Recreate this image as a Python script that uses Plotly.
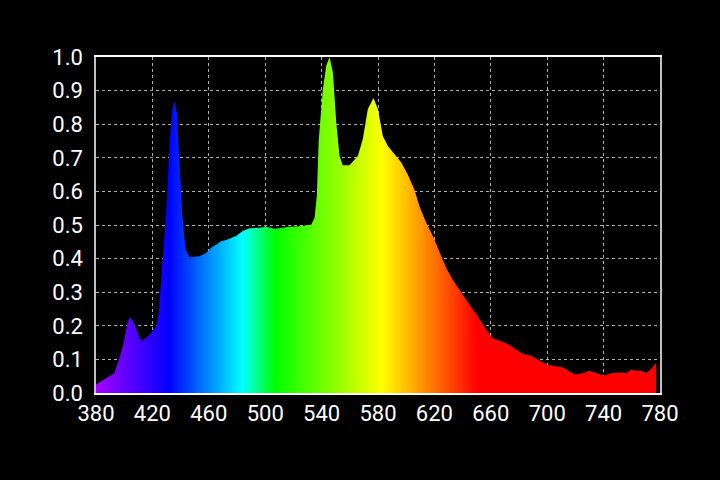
import plotly.graph_objects as go

wavelength_nm = [
    380, 385, 390, 393, 395.5, 399, 402.6, 404.2, 407.3, 410.9, 412.8, 418, 422.7, 424.5,
    426.2, 429.8, 432.1, 433.8, 435.4, 437.3, 439.2, 441.1, 443.5, 446.3, 453.4, 458.1,
    461.7, 468.8, 472.3, 477, 479.4, 484, 488.9, 496, 500.7, 506.6, 510, 517.2, 524.3,
    532.6, 535, 536.6, 538, 540.9, 543.3, 545.6, 548, 550.4, 552.7, 555, 559.8, 565.7,
    569.2, 572.8, 576.8, 579.9, 583.4, 587, 591.7, 596.5, 601.1, 605.9, 609.4, 614.2,
    618.9, 623.6, 628.4, 633, 639, 644.9, 650.8, 656.7, 661.4, 666, 670.9, 675, 680.4,
    682.7, 688.6, 694.5, 700.4, 706.4, 711, 715.8, 719.4, 724.1, 730, 734.8, 740.6,
    745.4, 751.3, 756, 759.6, 763.1, 766.7, 770.2, 773.8, 776.1, 777.3,
]
intensity = [
    0.025, 0.038, 0.050, 0.059, 0.089, 0.138, 0.213, 0.226, 0.203, 0.163, 0.155, 0.173, 0.198, 0.238,
    0.337, 0.536, 0.735, 0.835, 0.870, 0.835, 0.686, 0.536, 0.427, 0.404, 0.407, 0.417,
    0.432, 0.452, 0.455, 0.462, 0.467, 0.482, 0.490, 0.492, 0.495, 0.489, 0.490, 0.495, 0.496,
    0.501, 0.521, 0.586, 0.755, 0.904, 0.974, 1.0, 0.954, 0.805, 0.705, 0.678, 0.678, 0.705,
    0.755, 0.845, 0.878, 0.845, 0.765, 0.735, 0.710, 0.686, 0.650, 0.604, 0.556, 0.507,
    0.467, 0.417, 0.372, 0.337, 0.298, 0.263, 0.228, 0.188, 0.163, 0.155, 0.148, 0.138, 0.123,
    0.116, 0.111, 0.096, 0.084, 0.079, 0.076, 0.064, 0.055, 0.057, 0.066, 0.059, 0.052,
    0.059, 0.061, 0.059, 0.069, 0.066, 0.066, 0.059, 0.072, 0.084, 0.090,
]

x_ticks = [380, 420, 460, 500, 540, 580, 620, 660, 700, 740, 780]
y_ticks = [0.0, 0.1, 0.2, 0.3, 0.4, 0.5, 0.6, 0.7, 0.8, 0.9, 1.0]
y_tick_labels = ["0.0", "0.1", "0.2", "0.3", "0.4", "0.5", "0.6", "0.7", "0.8", "0.9", "1.0"]

# spectral colour stops (wavelength, colour)
color_nm = [380, 432, 484, 507, 583, 650, 780]
color_hex = ["#a400ff", "#0000ff", "#00ffff", "#00ff00", "#ffff00", "#ff0000", "#ff0000"]

x_min, x_max = 380, 780
colorscale = [[(w - x_min) / (x_max - x_min), c] for w, c in zip(color_nm, color_hex)]

fig = go.Figure()
fig.add_trace(go.Scatter(
    x=wavelength_nm, y=intensity, mode="lines",
    line=dict(width=0, color="rgba(0,0,0,0)"),
    fill="tozeroy",
    fillgradient=dict(type="horizontal", colorscale=colorscale, start=x_min, stop=x_max),
    hoverinfo="skip", showlegend=False,
))

fig.update_layout(
    width=720, height=480,
    paper_bgcolor="black", plot_bgcolor="black",
    margin=dict(l=96, r=60, t=57, b=87),
    font=dict(family="Roboto", size=22, color="white"),
    xaxis=dict(
        range=[x_min, x_max], tickvals=x_ticks, ticktext=[str(t) for t in x_ticks],
        showgrid=True, gridcolor="#b0b0b0", gridwidth=1, griddash="dot",
        showline=True, linecolor="white", linewidth=2, mirror=True,
        ticks="", ticklen=0, zeroline=False, fixedrange=True,
    ),
    yaxis=dict(
        range=[0, 1.0], tickvals=y_ticks, ticktext=y_tick_labels,
        showgrid=True, gridcolor="#b0b0b0", gridwidth=1, griddash="dot",
        showline=True, linecolor="#c0c0c0", linewidth=1.5, mirror=True,
        ticks="", ticklen=0, ticklabelstandoff=7, zeroline=False, fixedrange=True,
    ),
)

fig.write_html(
    "out.html",
    config={"displayModeBar": False},
    post_script="document.body.style.margin='0';document.body.style.background='black';",
)
